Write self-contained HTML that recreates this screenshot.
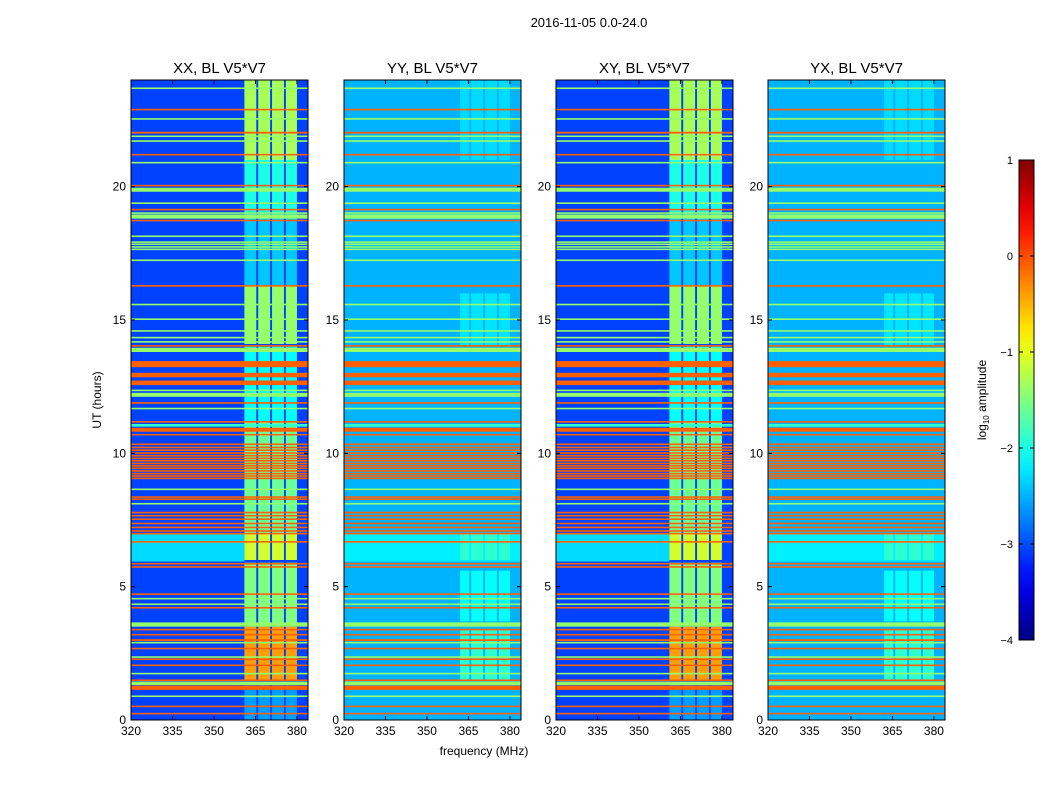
<!DOCTYPE html>
<html><head><meta charset="utf-8"><style>
body{margin:0;background:#fff;font-family:"Liberation Sans",sans-serif}
svg text{font-family:"Liberation Sans",sans-serif}
</style></head><body>
<svg id="c" width="1050" height="800" viewBox="0 0 1050 800" xmlns="http://www.w3.org/2000/svg"></svg>
<script>
// ---- data ----
const panelTitles = ["XX, BL V5*V7","YY, BL V5*V7","XY, BL V5*V7","YX, BL V5*V7"];
const panelBase = [-3.05,-2.5,-3.05,-2.5];
const yTicks = [0,5,10,15,20];
const xTicks = [320,335,350,365,380];
const cbTicks = [1,0,-1,-2,-3,-4];
const G=-1.4, O=-0.1;
// horizontal RFI lines [hourTop, hourBottom, log10 level]
const timeLines = [[23.72,23.66,G],[22.92,22.86,O],[22.57,22.51,G],[22.06,21.99,O],[21.92,21.87,G],[21.74,21.69,G],[21.23,21.17,O],[20.93,20.88,G],[20.07,20.02,O],[19.96,19.81,G],[19.41,19.36,G],[19.17,19.12,O],[19.04,18.99,G],[18.96,18.8,G],[18.76,18.71,O],[18.17,18.12,G],[17.95,17.9,G],[17.87,17.82,G],[17.77,17.72,G],[17.68,17.63,G],[17.27,17.22,G],[16.31,16.26,O],[15.61,15.56,G],[15.06,15.01,G],[14.62,14.57,G],[14.37,14.32,G],[14.21,14.16,G],[14.06,14.01,O],[13.96,13.8,G],[13.46,13.23,O],[13.02,12.85,O],[12.73,12.56,O],[12.39,12.34,G],[12.27,12.12,G],[11.92,11.87,O],[11.71,11.66,G],[11.21,11.16,O],[11.1,11.0,-1.9],[10.96,10.81,O],[10.73,10.68,O],[10.37,10.31,O],[10.25,10.19,O],[10.15,10.09,O],[10.04,9.98,O],[9.94,9.88,O],[9.84,9.78,O],[9.75,9.69,O],[9.65,9.59,O],[9.56,9.5,O],[9.47,9.41,O],[9.37,9.31,O],[9.27,9.21,O],[9.18,9.12,O],[9.09,9.03,O],[8.68,8.63,G],[8.39,8.34,O],[8.31,8.26,O],[8.14,8.09,G],[7.81,7.75,O],[7.69,7.63,O],[7.56,7.5,O],[7.4,7.34,O],[7.25,7.19,O],[7.12,7.06,O],[7.02,6.96,O],[6.71,6.66,O],[5.89,5.84,O],[5.77,5.72,O],[4.75,4.7,O],[4.58,4.53,G],[4.37,4.32,G],[4.24,4.19,O],[3.66,3.5,G],[3.42,3.37,O],[3.23,3.18,O],[3.03,2.96,O],[2.93,2.88,G],[2.71,2.66,O],[2.39,2.34,G],[2.31,2.26,O],[2.08,2.03,O],[1.77,1.72,G],[1.52,1.47,O],[1.44,1.31,G],[1.29,1.13,O],[0.92,0.87,G],[0.54,0.49,O],[0.27,0.22,O]];
// wide bands per panel [hTop,hBottom,fLow,fHigh,level]
const xxBands = [[7.0,5.94,320,361,-2.3]];
const yyBands = [[7.0,5.94,320,384,-2.2]];
// RFI frequency columns [fLow,fHigh]
const xxCols = [[361,365.3],[366,370.3],[371,375.3],[376,380]];
const yyCols = [[362,365.3],[366,370.3],[371,375.3],[376,380]];
// column time segments [hTop,hBottom,level]
const xxColSeg = [[24,21,-1.3],[21,19,-2.0],[19,16.3,-2.4],[16.3,14.1,-1.4],[14,11.2,-2.1],[11.2,7.0,-1.6],[7,6,-1.1],[5.9,3.6,-1.5],[3.5,1.5,-0.4],[1.3,0,-2.6]];
const yyColSeg = [[24,21,-2.3],[16,14,-2.25],[7,6,-1.9],[5.6,3.7,-2.1],[3.4,1.5,-1.9]];
const panelBands=[xxBands,yyBands,xxBands,yyBands];
const panelCols=[xxCols,yyCols,xxCols,yyCols];
const panelColSeg=[xxColSeg,yyColSeg,xxColSeg,yyColSeg];

// ---- layout ----
const svg=document.getElementById('c');
const NS="http://www.w3.org/2000/svg";
const panelLeft=[131,344,556,768], PW=177, PT=80, PB=720;
const fMin=320,fMax=384,hMin=0,hMax=24;
function yS(h){return PB-(h-hMin)/(hMax-hMin)*(PB-PT);}
function jet(v){const t=Math.max(0,Math.min(1,(v+4)/5));const c=x=>Math.round(255*Math.max(0,Math.min(1,1.5-Math.abs(4*t-x))));return `rgb(${c(3)},${c(2)},${c(1)})`;}
function el(tag,attrs,parent){const e=document.createElementNS(NS,tag);for(const k in attrs)e.setAttribute(k,attrs[k]);(parent||svg).appendChild(e);return e;}
function txt(s,x,y,size,anchor,parent,extra){const t=el('text',Object.assign({x:x,y:y,'font-size':size,'text-anchor':anchor||'middle',fill:'#000'},extra||{}),parent);t.textContent=s;return t;}

const title=txt("2016-11-05 0.0-24.0",589,27,13);



panelTitles.forEach((pt,i)=>{
  const L=panelLeft[i];
  const xS=f=>L+(f-fMin)/(fMax-fMin)*PW;
  const g=el('g',{});
  
  
  const bg=el('rect',{x:L,y:PT,width:PW,height:PB-PT,fill:jet(panelBase[i])},g);
  
  
  panelBands[i].forEach(b=>{
    const r=el('rect',{x:xS(b[2]),y:yS(b[0]),width:xS(b[3])-xS(b[2]),height:yS(b[1])-yS(b[0]),fill:jet(b[4])},g);
    
    
  });
  panelCols[i].forEach(c=>{
    panelColSeg[i].forEach(s=>{
      const r=el('rect',{x:xS(c[0]),y:yS(s[0]),width:xS(c[1])-xS(c[0]),height:yS(s[1])-yS(s[0]),fill:jet(s[2])},g);
      
      
    });
  });
  timeLines.forEach(l=>{
    const h=Math.max(1.6,yS(l[1])-yS(l[0]));
    const r=el('rect',{x:L,y:yS(l[0]),width:PW,height:h,fill:jet(l[2])},g);
    
    
  });
  const fr=el('rect',{x:L,y:PT,width:PW,height:PB-PT,fill:'none',stroke:'#000','stroke-width':1},g);
  
  
  yTicks.forEach(v=>{
    const y=yS(v);
    el('line',{x1:L,x2:L+4,y1:y,y2:y,stroke:'#000'},g);
    el('line',{x1:L+PW-4,x2:L+PW,y1:y,y2:y,stroke:'#000'},g);
    const t=txt(String(v),L-5,y+4,12,'end',g);
    
    
  });
  xTicks.forEach(v=>{
    const x=xS(v);
    el('line',{x1:x,x2:x,y1:PB,y2:PB-4,stroke:'#000'},g);
    el('line',{x1:x,x2:x,y1:PT,y2:PT+4,stroke:'#000'},g);
    const t=txt(String(v),x,PB+15,12,'middle',g);
    
    
  });
  const tt=txt(pt,L+PW/2,73,15,'middle',g);
  
  
});

const xl=txt("frequency (MHz)",484,755,12);


const yl=txt("UT (hours)",101,400,12,'middle',null,{transform:'rotate(-90 101 400)'});



// colorbar
const defs=el('defs',{});
const grad=el('linearGradient',{id:'jetg',x1:0,y1:1,x2:0,y2:0},defs);
for(let k=0;k<=20;k++){const v=-4+k*5/20;el('stop',{offset:(k/20),'stop-color':jet(v)},grad);}
const CBX=1019,CBW=15,CBT=160,CBB=640;
const cb=el('rect',{x:CBX,y:CBT,width:CBW,height:CBB-CBT,fill:'url(#jetg)',stroke:'#000','stroke-width':1});


cbTicks.forEach(v=>{
  const y=CBB-(v+4)/5*(CBB-CBT);
  el('line',{x1:CBX+CBW-4,x2:CBX+CBW,y1:y,y2:y,stroke:'#000'});
  el('line',{x1:CBX,x2:CBX+4,y1:y,y2:y,stroke:'#000'});
  const t=txt(v<0?'\u2212'+(-v):String(v),CBX-6,y+4,11,'end');
  
  
});
const cl=el('text',{x:986,y:400,'font-size':12,'text-anchor':'middle',fill:'#000',transform:'rotate(-90 986 400)'});
cl.innerHTML='log<tspan font-size="8" dy="3">10</tspan><tspan dy="-3"> amplitude</tspan>';


</script>
</body></html>
